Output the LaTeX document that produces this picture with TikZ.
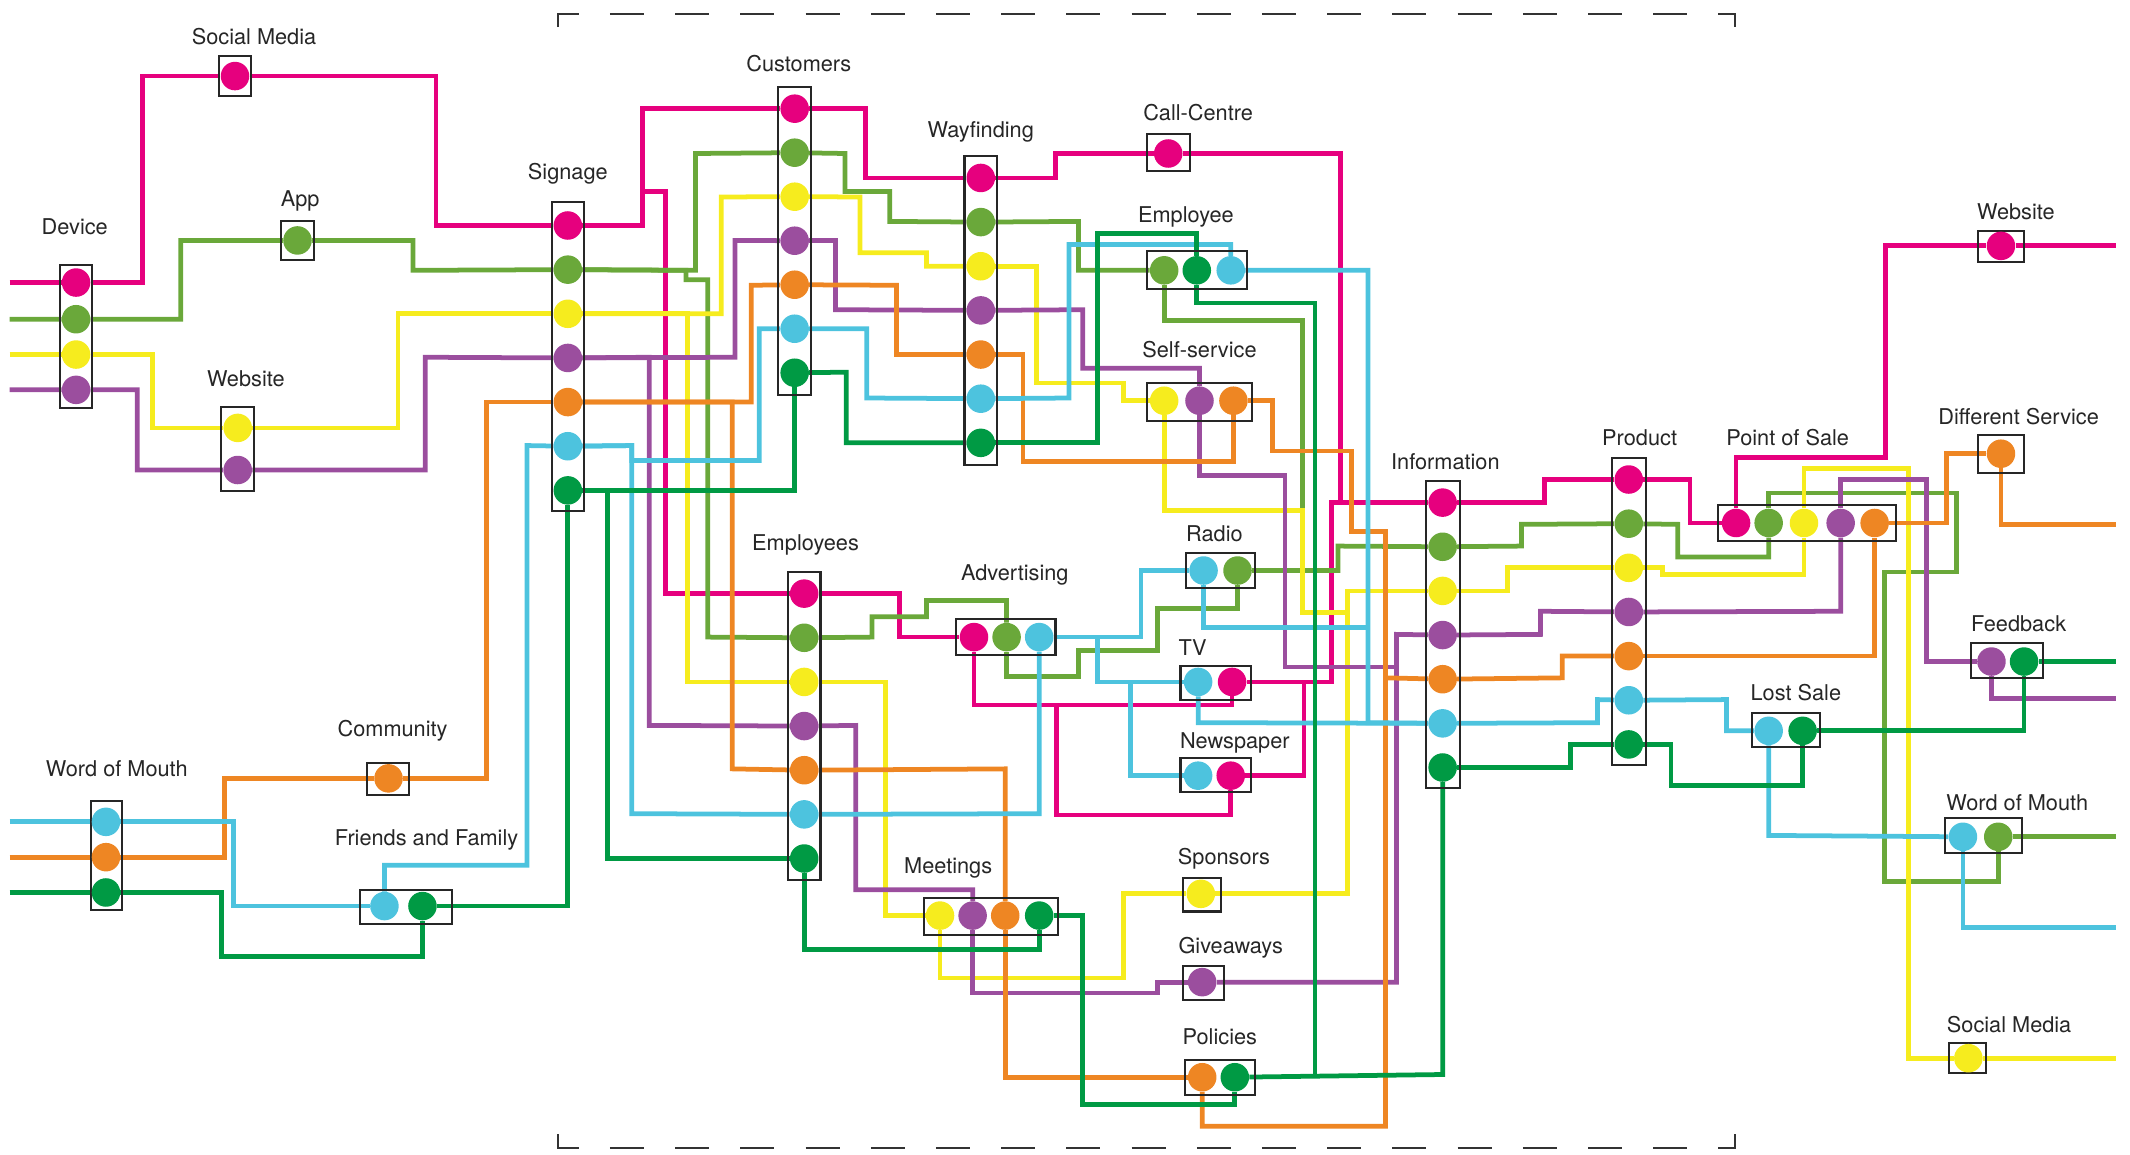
\documentclass[tikz,border=0pt]{standalone}
\usepackage{fontspec}
\setmainfont{TeX Gyre Heros}
\usetikzlibrary{backgrounds}

\definecolor{pk}{RGB}{230,0,126}
\definecolor{lg}{RGB}{106,168,58}
\definecolor{ye}{RGB}{246,236,30}
\definecolor{pu}{RGB}{155,78,158}
\definecolor{og}{RGB}{238,134,35}
\definecolor{cy}{RGB}{77,195,222}
\definecolor{dg}{RGB}{0,154,68}

\begin{document}
\begin{tikzpicture}[
    x=1pt, y=-1pt,
    wire/.style={draw=#1, line width=3.5pt},
    dot/.style={circle, fill=#1, minimum size=21pt, inner sep=0pt},
    pbox/.style 2 args={rectangle, draw=black!85, line width=1.5pt, inner sep=0pt, minimum width=#1pt, minimum height=#2pt},
    lbl/.style={font=\fontsize{16}{19}\selectfont, text=black!85},
    cutline/.style={draw=black!80, line width=1.5pt, dash pattern=on 25pt off 23pt},
]
\useasboundingbox (0,0) rectangle (1568,850);

% Dashed frame (top and bottom only)
\draw[cutline] (411,20) -- (411,10) -- (1277,10) -- (1277,20);
\draw[cutline] (411,835) -- (411,845) -- (1277,845) -- (1277,835);

% Boxes
\node[pbox={24}{105}] (dev) at (56,247.5) {};
\node[pbox={24}{30}] (smL) at (173,56) {};
\node[pbox={24}{29}] (app) at (219,177) {};
\node[pbox={24}{62}] (webL) at (175,330.5) {};
\node[pbox={24}{227}] (sig) at (418,262.5) {};
\node[pbox={24}{227}] (cus) at (585,177.5) {};
\node[pbox={24}{227}] (way) at (722,228.5) {};
\node[pbox={32}{27}] (call) at (860,112.5) {};
\node[pbox={74}{28}] (emp) at (881,199) {};
\node[pbox={78}{28}] (self) at (883,296) {};
\node[pbox={25}{226}] (info) at (1062,467) {};
\node[pbox={25}{226}] (prod) at (1199,450) {};
\node[pbox={131}{26}] (pos) at (1330,385) {};
\node[pbox={34}{23}] (webR) at (1473,181.5) {};
\node[pbox={34}{28}] (diff) at (1473,334) {};
\node[pbox={53}{26}] (feed) at (1477.5,486) {};
\node[pbox={50}{25}] (lost) at (1315,537.5) {};
\node[pbox={57}{26}] (womR) at (1460,615) {};
\node[pbox={27}{22}] (smR) at (1448.5,779) {};
\node[pbox={51}{26}] (radio) at (898.5,420) {};
\node[pbox={52}{25}] (tv) at (895,502.5) {};
\node[pbox={52}{25}] (news) at (895,570.5) {};
\node[pbox={73}{26}] (adv) at (740.5,469) {};
\node[pbox={24}{227}] (emps) at (592,534.5) {};
\node[pbox={99}{27}] (meet) at (729.5,674.5) {};
\node[pbox={28}{25}] (spon) at (885,658.5) {};
\node[pbox={30}{25}] (give) at (886,723.5) {};
\node[pbox={52}{26}] (pol) at (898,793) {};
\node[pbox={31}{23}] (comm) at (285.5,573.5) {};
\node[pbox={23}{80}] (womL) at (78.5,630) {};
\node[pbox={68}{25}] (ff) at (299,667.5) {};

% Labels
\node[lbl] (dev-t) at (55,167) {Device};
\node[lbl] (smL-t) at (187,27) {Social Media};
\node[lbl] (app-t) at (221,148) {App};
\node[lbl] (webL-t) at (181,279) {Website};
\node[lbl] (sig-t) at (418,128) {Signage};
\node[lbl] (cus-t) at (588,47) {Customers};
\node[lbl] (way-t) at (722,97) {Wayfinding};
\node[lbl] (call-t) at (882,83) {Call-Centre};
\node[lbl] (emp-t) at (873,160) {Employee};
\node[lbl] (self-t) at (883,257) {Self-service};
\node[lbl] (info-t) at (1064,340) {Information};
\node[lbl] (prod-t) at (1207,322) {Product};
\node[lbl] (pos-t) at (1316,322) {Point of Sale};
\node[lbl] (webR-t) at (1484,156) {Website};
\node[lbl] (diff-t) at (1486,307) {Different Service};
\node[lbl] (feed-t) at (1486,459) {Feedback};
\node[lbl] (lost-t) at (1322,510) {Lost Sale};
\node[lbl] (womR-t) at (1485,591) {Word of Mouth};
\node[lbl] (smR-t) at (1479,754) {Social Media};
\node[lbl] (radio-t) at (894,393) {Radio};
\node[lbl] (tv-t) at (878,477) {TV};
\node[lbl] (news-t) at (909,547) {Newspaper};
\node[lbl] (adv-t) at (747,423) {Advertising};
\node[lbl] (emps-t) at (593,401) {Employees};
\node[lbl] (meet-t) at (698,639) {Meetings};
\node[lbl] (spon-t) at (901,632) {Sponsors};
\node[lbl] (give-t) at (906,698) {Giveaways};
\node[lbl] (pol-t) at (898,763) {Policies};
\node[lbl] (comm-t) at (289,538) {Community};
\node[lbl] (womL-t) at (86,566) {Word of Mouth};
\node[lbl] (ff-t) at (314,618) {Friends and Family};

% Dots: seven-colour stacks
\foreach \c [count=\i from 0] in {pk,lg,ye,pu,og,cy,dg} {
    \node[dot=\c] (sig-\c) at (418,166+32.5*\i) {};
    \node[dot=\c] (cus-\c) at (585,80+32.4*\i) {};
    \node[dot=\c] (way-\c) at (722,131+32.5*\i) {};
    \node[dot=\c] (info-\c) at (1062,370+32.5*\i) {};
    \node[dot=\c] (prod-\c) at (1199,353+32.5*\i) {};
    \node[dot=\c] (emps-\c) at (592,437+32.5*\i) {};
}

% Dots: other touchpoints
\node[dot=pk] (dev-pk) at (56,208) {};
\node[dot=lg] (dev-lg) at (56,235) {};
\node[dot=ye] (dev-ye) at (56,261) {};
\node[dot=pu] (dev-pu) at (56,287) {};
\node[dot=pk] (smL-pk) at (173,56) {};
\node[dot=lg] (app-lg) at (219,177) {};
\node[dot=ye] (webL-ye) at (175,315) {};
\node[dot=pu] (webL-pu) at (175,346) {};
\node[dot=pk] (call-pk) at (860,113) {};
\node[dot=lg] (emp-lg) at (857,199) {};
\node[dot=dg] (emp-dg) at (881,199) {};
\node[dot=cy] (emp-cy) at (906,199) {};
\node[dot=ye] (self-ye) at (857,295) {};
\node[dot=pu] (self-pu) at (883,295) {};
\node[dot=og] (self-og) at (908,295) {};
\node[dot=pk] (pos-pk) at (1278,385) {};
\node[dot=lg] (pos-lg) at (1302,385) {};
\node[dot=ye] (pos-ye) at (1328,385) {};
\node[dot=pu] (pos-pu) at (1355,385) {};
\node[dot=og] (pos-og) at (1380,385) {};
\node[dot=pk] (webR-pk) at (1473,181) {};
\node[dot=og] (diff-og) at (1473,334) {};
\node[dot=pu] (feed-pu) at (1466,487) {};
\node[dot=dg] (feed-dg) at (1490,487) {};
\node[dot=cy] (lost-cy) at (1302,538) {};
\node[dot=dg] (lost-dg) at (1327,538) {};
\node[dot=cy] (womR-cy) at (1445,616) {};
\node[dot=lg] (womR-lg) at (1471,616) {};
\node[dot=ye] (smR-ye) at (1449,779) {};
\node[dot=cy] (radio-cy) at (886,420) {};
\node[dot=lg] (radio-lg) at (911,420) {};
\node[dot=cy] (tv-cy) at (882,502) {};
\node[dot=pk] (tv-pk) at (907,502) {};
\node[dot=cy] (news-cy) at (882,571) {};
\node[dot=pk] (news-pk) at (906,571) {};
\node[dot=pk] (adv-pk) at (717,469) {};
\node[dot=lg] (adv-lg) at (741,469) {};
\node[dot=cy] (adv-cy) at (765,469) {};
\node[dot=ye] (meet-ye) at (692,674) {};
\node[dot=pu] (meet-pu) at (716,674) {};
\node[dot=og] (meet-og) at (740,674) {};
\node[dot=dg] (meet-dg) at (765,674) {};
\node[dot=ye] (spon-ye) at (884,658) {};
\node[dot=pu] (give-pu) at (885,723) {};
\node[dot=og] (pol-og) at (885,793) {};
\node[dot=dg] (pol-dg) at (909,793) {};
\node[dot=og] (comm-og) at (286,573) {};
\node[dot=cy] (womL-cy) at (78,605) {};
\node[dot=og] (womL-og) at (78,631) {};
\node[dot=dg] (womL-dg) at (78,657) {};
\node[dot=cy] (ff-cy) at (283,667) {};
\node[dot=dg] (ff-dg) at (311,667) {};

% Free ends at the page edges
\coordinate (inL-pk) at (7,208);
\coordinate (inL-lg) at (7,235);
\coordinate (inL-ye) at (7,261);
\coordinate (inL-pu) at (7,287);
\coordinate (inL-cy) at (7,605);
\coordinate (inL-og) at (7,631);
\coordinate (inL-dg) at (7,657);
\coordinate (outR-pk) at (1558,181);
\coordinate (outR-og) at (1558,386);
\coordinate (outR-dg) at (1558,487);
\coordinate (outR-pu) at (1558,514);
\coordinate (outR-lg) at (1558,616);
\coordinate (outR-cy) at (1558,683);
\coordinate (outR-ye) at (1558,779);

\begin{scope}[on background layer]
% pink
\draw[wire=pk] (inL-pk) -- (dev-pk) -- (105,208) -- (105,56) -- (smL-pk) -- (321,56) -- (321,166) -- (sig-pk);
\draw[wire=pk] (sig-pk) -- (473,166) -- (473,80) -- (cus-pk);
\draw[wire=pk] (sig-pk) -- (473,166) -- (473,141) -- (490,141) -- (490,437) -- (emps-pk);
\draw[wire=pk] (cus-pk) -- (637,80) -- (637,131) -- (way-pk);
\draw[wire=pk] (way-pk) -- (777,131) -- (777,113) -- (call-pk);
\draw[wire=pk] (call-pk) -- (987,113) -- (987,370) -- (info-pk);
\draw[wire=pk] (emps-pk) -- (662,437) -- (662,469) -- (adv-pk);
\draw[wire=pk] (adv-pk) -- (717,519) -- (907,519) -- (tv-pk);
\draw[wire=pk] (adv-pk) -- (717,519) -- (778,519) -- (778,600) -- (906,600) -- (news-pk);
\draw[wire=pk] (tv-pk) -- (980,502) -- (980,370) -- (info-pk);
\draw[wire=pk] (news-pk) -- (960,571) -- (960,502) -- (980,502);
\draw[wire=pk] (info-pk) -- (1137,370) -- (1137,353) -- (prod-pk);
\draw[wire=pk] (prod-pk) -- (1244,353) -- (1244,385) -- (pos-pk);
\draw[wire=pk] (pos-pk) -- (1278,337) -- (1388,337) -- (1388,181) -- (webR-pk) -- (outR-pk);
% light green
\draw[wire=lg] (inL-lg) -- (dev-lg) -- (133,235) -- (133,177) -- (app-lg) -- (304,177) -- (304,199) -- (sig-lg);
\draw[wire=lg] (sig-lg) -- (512,199) -- (512,113) -- (cus-lg);
\draw[wire=lg] (sig-lg) -- (505,199) -- (505,206) -- (521,206) -- (521,469) -- (emps-lg);
\draw[wire=lg] (cus-lg) -- (622,113) -- (622,141) -- (655,141) -- (655,163) -- (way-lg);
\draw[wire=lg] (way-lg) -- (794,163) -- (794,199) -- (emp-lg);
\draw[wire=lg] (emp-lg) -- (857,236) -- (959,236) -- (959,420) -- (985,420);
\draw[wire=lg] (emps-lg) -- (642,469) -- (642,454) -- (682,454) -- (682,442) -- (741,442) -- (adv-lg);
\draw[wire=lg] (adv-lg) -- (741,498) -- (794,498) -- (794,479) -- (852,479) -- (852,448) -- (911,448) -- (radio-lg);
\draw[wire=lg] (radio-lg) -- (985,420) -- (985,402) -- (info-lg);
\draw[wire=lg] (info-lg) -- (1120,402) -- (1120,386) -- (prod-lg);
\draw[wire=lg] (prod-lg) -- (1235,386) -- (1235,410) -- (1302,410) -- (pos-lg);
\draw[wire=lg] (pos-lg) -- (1302,363) -- (1440,363) -- (1440,421) -- (1387,421) -- (1387,649) -- (1471,649) -- (womR-lg);
\draw[wire=lg] (womR-lg) -- (outR-lg);
% yellow
\draw[wire=ye] (inL-ye) -- (dev-ye) -- (112,261) -- (112,315) -- (webL-ye) -- (293,315) -- (293,231) -- (sig-ye);
\draw[wire=ye] (sig-ye) -- (531,231) -- (531,145) -- (cus-ye);
\draw[wire=ye] (sig-ye) -- (506,231) -- (506,502) -- (emps-ye);
\draw[wire=ye] (cus-ye) -- (633,145) -- (633,186) -- (682,186) -- (682,196) -- (way-ye);
\draw[wire=ye] (way-ye) -- (763,196) -- (763,282) -- (827,282) -- (827,295) -- (self-ye);
\draw[wire=ye] (self-ye) -- (857,376) -- (959,376) -- (959,451) -- (992,451);
\draw[wire=ye] (spon-ye) -- (992,658) -- (992,435) -- (info-ye);
\draw[wire=ye] (info-ye) -- (1110,435) -- (1110,418) -- (prod-ye);
\draw[wire=ye] (prod-ye) -- (1224,418) -- (1224,423) -- (1328,423) -- (pos-ye);
\draw[wire=ye] (pos-ye) -- (1328,345) -- (1405,345) -- (1405,779) -- (smR-ye) -- (outR-ye);
\draw[wire=ye] (emps-ye) -- (652,502) -- (652,674) -- (meet-ye);
\draw[wire=ye] (meet-ye) -- (692,720) -- (827,720) -- (827,658) -- (spon-ye);
% purple
\draw[wire=pu] (inL-pu) -- (dev-pu) -- (101,287) -- (101,346) -- (webL-pu) -- (313,346) -- (313,263) -- (sig-pu);
\draw[wire=pu] (sig-pu) -- (541,263) -- (541,177) -- (cus-pu);
\draw[wire=pu] (sig-pu) -- (478,263) -- (478,534) -- (emps-pu);
\draw[wire=pu] (cus-pu) -- (615,177) -- (615,228) -- (way-pu);
\draw[wire=pu] (way-pu) -- (797,228) -- (797,271) -- (883,271) -- (self-pu);
\draw[wire=pu] (self-pu) -- (883,350) -- (946,350) -- (946,491) -- (1028,491);
\draw[wire=pu] (give-pu) -- (1028,723) -- (1028,467) -- (info-pu);
\draw[wire=pu] (info-pu) -- (1134,467) -- (1134,450) -- (prod-pu);
\draw[wire=pu] (prod-pu) -- (1355,450) -- (pos-pu);
\draw[wire=pu] (pos-pu) -- (1355,353) -- (1418,353) -- (1418,487) -- (feed-pu);
\draw[wire=pu] (feed-pu) -- (1466,514) -- (outR-pu);
\draw[wire=pu] (emps-pu) -- (630,534) -- (630,655) -- (716,655) -- (meet-pu);
\draw[wire=pu] (meet-pu) -- (716,731) -- (852,731) -- (852,723) -- (give-pu);
% orange
\draw[wire=og] (inL-og) -- (womL-og) -- (165,631) -- (165,573) -- (comm-og) -- (358,573) -- (358,296) -- (sig-og);
\draw[wire=og] (sig-og) -- (553,296) -- (553,210) -- (cus-og);
\draw[wire=og] (sig-og) -- (539,296) -- (539,566) -- (emps-og);
\draw[wire=og] (cus-og) -- (660,210) -- (660,261) -- (way-og);
\draw[wire=og] (way-og) -- (753,261) -- (753,340) -- (908,340) -- (self-og);
\draw[wire=og] (self-og) -- (937,295) -- (937,332) -- (995,332) -- (995,391) -- (1020,391) -- (1020,499);
\draw[wire=og] (pol-og) -- (885,829) -- (1020,829) -- (1020,499) -- (info-og);
\draw[wire=og] (info-og) -- (1150,499) -- (1150,483) -- (prod-og);
\draw[wire=og] (prod-og) -- (1380,483) -- (pos-og);
\draw[wire=og] (pos-og) -- (1433,385) -- (1433,334) -- (diff-og);
\draw[wire=og] (diff-og) -- (1473,386) -- (outR-og);
\draw[wire=og] (emps-og) -- (740,566) -- (meet-og);
\draw[wire=og] (meet-og) -- (740,793) -- (pol-og);
% cyan
\draw[wire=cy] (inL-cy) -- (womL-cy) -- (172,605) -- (172,667) -- (ff-cy);
\draw[wire=cy] (ff-cy) -- (283,637) -- (388,637) -- (388,328) -- (sig-cy);
\draw[wire=cy] (sig-cy) -- (465,328) -- (465,599) -- (emps-cy);
\draw[wire=cy] (sig-cy) -- (465,328) -- (465,339) -- (559,339) -- (559,242) -- (cus-cy);
\draw[wire=cy] (cus-cy) -- (638,242) -- (638,293) -- (way-cy);
\draw[wire=cy] (way-cy) -- (787,293) -- (787,180) -- (906,180) -- (emp-cy);
\draw[wire=cy] (emp-cy) -- (1007,199) -- (1007,532) -- (info-cy);
\draw[wire=cy] (tv-cy) -- (882,532) -- (info-cy);
\draw[wire=cy] (radio-cy) -- (886,462) -- (1007,462);
\draw[wire=cy] (adv-cy) -- (840,469) -- (840,420) -- (radio-cy);
\draw[wire=cy] (adv-cy) -- (808,469) -- (808,502) -- (tv-cy);
\draw[wire=cy] (adv-cy) -- (808,469) -- (808,502) -- (832,502) -- (832,571) -- (news-cy);
\draw[wire=cy] (adv-cy) -- (765,599) -- (emps-cy);
\draw[wire=cy] (info-cy) -- (1176,532) -- (1176,515) -- (prod-cy);
\draw[wire=cy] (prod-cy) -- (1271,515) -- (1271,538) -- (lost-cy);
\draw[wire=cy] (lost-cy) -- (1302,615) -- (womR-cy);
\draw[wire=cy] (womR-cy) -- (1445,683) -- (outR-cy);
% dark green
\draw[wire=dg] (inL-dg) -- (womL-dg) -- (163,657) -- (163,704) -- (311,704) -- (ff-dg);
\draw[wire=dg] (ff-dg) -- (418,667) -- (sig-dg);
\draw[wire=dg] (sig-dg) -- (585,361) -- (cus-dg);
\draw[wire=dg] (sig-dg) -- (447,361) -- (447,632) -- (emps-dg);
\draw[wire=dg] (cus-dg) -- (623,274) -- (623,326) -- (way-dg);
\draw[wire=dg] (way-dg) -- (808,326) -- (808,172) -- (881,172) -- (emp-dg);
\draw[wire=dg] (emp-dg) -- (881,223) -- (968,223) -- (968,791);
\draw[wire=dg] (pol-dg) -- (1062,791) -- (info-dg);
\draw[wire=dg] (info-dg) -- (1156,565) -- (1156,548) -- (prod-dg);
\draw[wire=dg] (prod-dg) -- (1230,548) -- (1230,578) -- (1327,578) -- (lost-dg);
\draw[wire=dg] (lost-dg) -- (1490,538) -- (feed-dg) -- (outR-dg);
\draw[wire=dg] (emps-dg) -- (592,699) -- (765,699) -- (meet-dg);
\draw[wire=dg] (meet-dg) -- (797,674) -- (797,813) -- (909,813) -- (pol-dg);
\end{scope}

\end{tikzpicture}
\end{document}
